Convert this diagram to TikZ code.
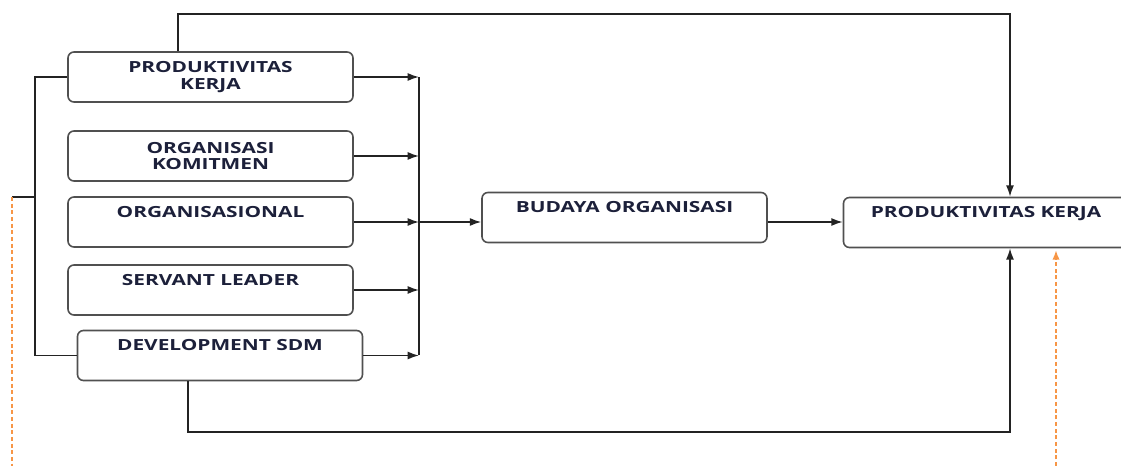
\documentclass[tikz,border=0pt]{standalone}
\usepackage{fontspec}
\setsansfont{Open Sans}[FakeStretch=1.36]
\usepackage{xcolor}
\usepackage{tikz}
\usetikzlibrary{arrows.meta}

\definecolor{lineGray}{RGB}{35,35,35}
\definecolor{boxGray}{RGB}{80,80,80}
\definecolor{txtNavy}{RGB}{28,32,58}
\definecolor{dashOrange}{RGB}{247,150,70}

\tikzset{
  box/.style={draw=boxGray, line width=1.2pt, rounded corners=4.5pt, minimum width=213.75pt, minimum height=37.5pt, inner sep=0pt, align=center, text=txtNavy, font=\sffamily\bfseries\fontsize{11.5}{12.6}\selectfont},
  toptext/.style={text height=8.2pt, text depth=15pt},
  conn/.style={draw=lineGray, line width=1.15pt},
  arr/.style={conn, -{Latex[length=8.5pt,width=6pt]}},
  dashline/.style={draw=dashOrange, line width=1.15pt, dash pattern=on 3pt off 2pt},
}

\begin{document}
\begin{tikzpicture}[x=0.75pt,y=0.75pt,yscale=-1,xscale=1]
\useasboundingbox (0,0) rectangle (1121,466);
\clip (0,0) rectangle (1121,466);
%Shape: Rounded Rect [id:pkA]
\node[box] (pkA) at (210.5,77) {PRODUKTIVITAS\\KERJA};
%Shape: Rounded Rect [id:ok]
\node[box] (ok) at (210.5,156) {ORGANISASI\\KOMITMEN};
%Shape: Rounded Rect [id:org]
\node[box,toptext] (org) at (210.5,222) {ORGANISASIONAL};
%Shape: Rounded Rect [id:sl]
\node[box,toptext] (sl) at (210.5,290) {SERVANT LEADER};
%Shape: Rounded Rect [id:dev]
\node[box,toptext] (dev) at (220,355.5) {DEVELOPMENT SDM};
%Shape: Rounded Rect [id:bud]
\node[box,toptext] (bud) at (624.5,217.5) {BUDAYA ORGANISASI};
%Shape: Rounded Rect [id:pkB]
\node[box,toptext] (pkB) at (986,222.5) {PRODUKTIVITAS KERJA};
% Coordinates
\coordinate (bar) at (419,0);
\coordinate (lbar) at (35,0);
\coordinate (lorg) at (12,197);
\coordinate (lend) at (12,466);
\coordinate (topA) at (178,14);
\coordinate (botA) at (188,432);
\coordinate (pin) at (1010,0);
\coordinate (rorg) at (1056,466);
%Straight Lines into bar
\draw[arr] (pkA.east) -- (pkA.east -| bar);
\draw[arr] (ok.east) -- (ok.east -| bar);
\draw[arr] (org.east) -- (org.east -| bar);
\draw[arr] (sl.east) -- (sl.east -| bar);
\draw[arr] (dev.east) -- (dev.east -| bar);
%Straight Lines: bar
\draw[conn] (pkA.east -| bar) -- (dev.east -| bar);
%Straight Lines: to budaya, to produktivitas
\draw[arr] (org.east -| bar) -- (org.east -| bud.west);
\draw[arr] (org.east -| bud.east) -- (org.east -| pkB.west);
%Straight Lines: left bracket
\draw[conn] (pkA.west) -- (pkA.west -| lbar) -- (dev.west -| lbar) -- (dev.west);
\draw[conn] (lorg -| lbar) -- (lorg);
\draw[dashline] (lorg) -- (lend);
%Straight Lines: top and bottom loops
\draw[arr] (topA |- pkA.north) -- (topA) -| (pin |- pkB.north);
\draw[arr] (botA |- dev.south) -- (botA) -| (pin |- pkB.south);
%Straight Lines: orange dashed
\draw[dashline, -{Latex[length=7pt,width=5.5pt]}, shorten >=1.5pt] (rorg) -- (rorg |- pkB.south);
\end{tikzpicture}
\end{document}
